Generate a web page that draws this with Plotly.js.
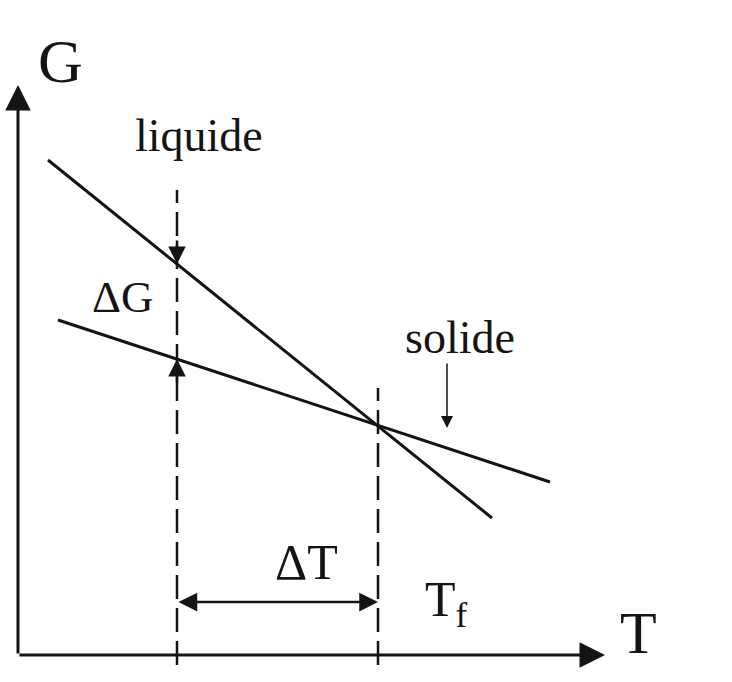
<!DOCTYPE html>
<html><head><meta charset="utf-8">
<script src="https://cdn.plot.ly/plotly-3.0.1.min.js"></script>
<style>html,body{margin:0;padding:0;background:#fff}</style>
</head><body>
<div id="chart" style="width:732px;height:682px"></div>
<script>
// Diagram coordinates: T (horizontal), G (vertical); origin at the axes' corner
const liquideT = [30, 474];
const liquideG = [495, 137];
const solideT = [40, 532];
const solideG = [335, 173];
const dashT = [159, 360];          // undercooled temperature, fusion temperature Tf
const dashTop = [465, 267];
const dashBottom = -10;
const axisTmax = 587;
const axisGmax = 570;
const deltaTLevel = 53;
const deltaGTop = 391;   // liquid G at T = dashT[0]
const deltaGBot = 296;   // solid G at T = dashT[0]
const solideArrowT = 429;
const solideArrowG = [293, 227];

const ink = '#141414';
const serif = 'Liberation Serif, Times New Roman, serif';

const traces = [
  {x: liquideT, y: liquideG, mode: 'lines', line: {color: ink, width: 3}},
  {x: solideT, y: solideG, mode: 'lines', line: {color: ink, width: 3}},
  {x: [dashT[0], dashT[0]], y: [dashBottom, dashTop[0]], mode: 'lines', line: {color: ink, width: 2.5, dash: '24px,9px'}},
  {x: [dashT[1], dashT[1]], y: [dashBottom, dashTop[1]], mode: 'lines', line: {color: ink, width: 2.5, dash: '24px,9px'}}
];

function arrow(x0, y0, x1, y1, w, s, head, side) {
  return {x: x1, y: y1, ax: x0, ay: y0, xref: 'x', yref: 'y', axref: 'x', ayref: 'y',
    text: '', showarrow: true, arrowhead: head, startarrowhead: head, arrowside: side || 'end',
    arrowwidth: w, arrowsize: s, startarrowsize: s, arrowcolor: ink, standoff: 0, startstandoff: 0};
}
function label(x, y, t, size) {
  return {x: x, y: y, xref: 'x', yref: 'y', text: t, showarrow: false,
    font: {family: serif, size: size, color: ink}};
}

const annotations = [
  arrow(0, 0, 0, axisGmax, 3, 1.7, 2),
  arrow(0, 0, axisTmax, 0, 3, 1.7, 2),
  arrow(dashT[0], deltaTLevel, dashT[1], deltaTLevel, 2.5, 1.5, 2, 'end+start'),
  arrow(dashT[0], deltaGTop + 25, dashT[0], deltaGTop, 2.5, 1.4, 2),
  arrow(dashT[0], deltaGBot - 25, dashT[0], deltaGBot, 2.5, 1.4, 2),
  arrow(solideArrowT, solideArrowG[0], solideArrowT, solideArrowG[1], 1.5, 1.6, 2),
  label(42, 594, 'G', 62),
  label(620, 22, 'T', 60),
  label(181, 520, 'liquide', 46),
  label(104, 358, 'ΔG', 45),
  label(442, 318, 'solide', 46),
  label(288, 93, 'ΔT', 50),
  label(428, 52, 'T<sub>f</sub>', 50)
];

const layout = {
  width: 732, height: 682,
  margin: {l: 0, r: 0, t: 0, b: 0},
  paper_bgcolor: '#fff', plot_bgcolor: '#fff',
  showlegend: false,
  xaxis: {range: [-18, 714], visible: false, fixedrange: true},
  yaxis: {range: [-27, 655], visible: false, fixedrange: true},
  annotations: annotations
};
Plotly.newPlot('chart', traces, layout, {staticPlot: true});
</script>
</body></html>
